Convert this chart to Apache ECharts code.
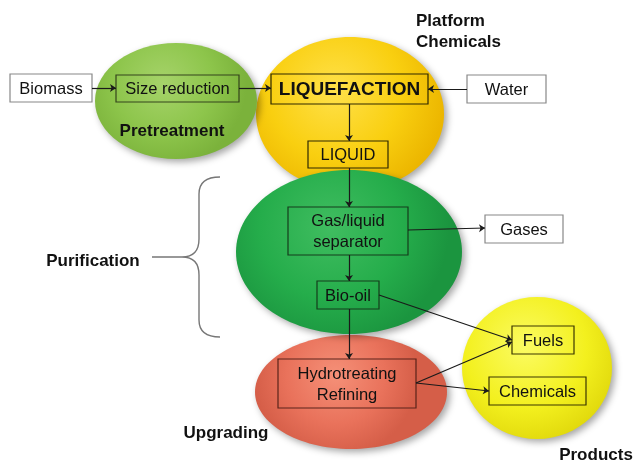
<!DOCTYPE html>
<html>
<head>
<meta charset="utf-8">
<script src="https://cdn.jsdelivr.net/npm/echarts@6/dist/echarts.min.js"></script>
<style>
  html, body { margin: 0; padding: 0; background: #fff; }
  #main { width: 634px; height: 463px; }
</style>
</head>
<body>
<div id="main"></div>
<script>
// stages (ellipses), in draw order: [cx, cy, rx, ry] in picture units
const stageNames = ['Upgrading', 'Liquefaction', 'Purification', 'Pretreatment', 'Products']
const stageCenters = [[351, 392], [350, 114], [349, 252], [176, 101], [537, 368]]
const stageRadii = [[96, 57], [94, 77], [113, 82], [81, 58], [75, 71]]

// process boxes: [left, top, width, height]
const boxLabels = ['Biomass', 'Size reduction', 'LIQUEFACTION', 'Water', 'LIQUID',
  'Gas/liquid\nseparator', 'Gases', 'Bio-oil', 'Hydrotreating\nRefining', 'Fuels', 'Chemicals']
const boxRects = [
  [10, 74, 82, 28], [116, 75, 123, 27], [271, 74, 157, 30], [467, 75, 79, 28], [308, 141, 80, 27],
  [288, 207, 120, 48], [485, 215, 78, 28], [317, 281, 62, 28], [278, 359, 138, 49],
  [512, 326, 62, 28], [489, 377, 97, 28]
]
const boxOutside = [true, false, false, true, false, false, true, false, false, false, false]

// arrows: [from, to]
const arrowLinks = [
  [[92, 88], [116, 88]],
  [[239, 88], [271, 88]],
  [[467, 89], [428, 89]],
  [[349, 104], [349, 141]],
  [[349, 168], [349, 207]],
  [[408, 230], [485, 228]],
  [[349, 255], [349, 281]],
  [[379, 295], [512, 340]],
  [[349, 309], [349, 359]],
  [[416, 383], [512, 342]],
  [[416, 383], [489, 391]]
]

// stage titles: [x, y]
const titleTexts = ['Platform\nChemicals', 'Pretreatment', 'Purification', 'Upgrading', 'Products']
const titlePos = [[416, 32], [172, 131], [93, 261], [226, 433], [596, 455]]

// purification brace: [spineX, topY, bottomY, tipX, endX, tailX]
const braceShape = [199, 177, 337, 182, 220, 152]

const stageFills = [
  ['#f59078', '#e9725b', '#d55e48'],
  ['#ffe14a', '#f9cf10', '#ecb600'],
  ['#40bd60', '#25ad4b', '#1b953f'],
  ['#a6d36a', '#8dc54b', '#7bb23b'],
  ['#fbfb62', '#f3f01e', '#dfd60a']
]
const boxStrokes = ['#333', '#34441c', '#2e2800', '#333', '#2e2800',
  '#143d1c', '#333', '#143d1c', '#5a231a', '#3a3600', '#3a3600']

const chart = echarts.init(document.getElementById('main'))
const font = '"Liberation Sans", Arial, sans-serif'

chart.setOption({
  animation: false,
  grid: { left: 0, right: 0, top: 0, bottom: 0 },
  xAxis: { type: 'value', min: 0, max: 634, show: false },
  yAxis: { type: 'value', min: 0, max: 463, inverse: true, show: false },
  series: [
    {
      type: 'custom',
      name: 'stages',
      z: 1,
      data: stageCenters.map((c, i) => [c[0], c[1], stageRadii[i][0], stageRadii[i][1], i]),
      renderItem: (params, api) => {
        const i = api.value(4)
        const p = api.coord([api.value(0), api.value(1)])
        const s = api.size([api.value(2), api.value(3)])
        const f = stageFills[i]
        return {
          type: 'ellipse',
          shape: { cx: p[0], cy: p[1], rx: s[0], ry: s[1] },
          style: {
            fill: new echarts.graphic.RadialGradient(0.42, 0.35, 0.72, [
              { offset: 0, color: f[0] },
              { offset: 0.6, color: f[1] },
              { offset: 1, color: f[2] }
            ]),
            shadowBlur: 7,
            shadowColor: 'rgba(0,0,0,0.35)',
            shadowOffsetX: 3,
            shadowOffsetY: 3
          }
        }
      }
    },
    {
      type: 'custom',
      name: 'brace',
      z: 2,
      data: [braceShape],
      renderItem: (params, api) => {
        const sx = api.value(0), top = api.value(1), bot = api.value(2)
        const tip = api.value(3), end = api.value(4), tail = api.value(5)
        const mid = (top + bot) / 2
        const P = (x, y) => api.coord([x, y]).join(' ')
        const d = 'M' + P(end, top) + ' Q' + P(sx, top) + ' ' + P(sx, top + 17) +
          ' L' + P(sx, mid - 18) + ' Q' + P(sx, mid) + ' ' + P(tip, mid) +
          ' Q' + P(sx, mid) + ' ' + P(sx, mid + 18) +
          ' L' + P(sx, bot - 17) + ' Q' + P(sx, bot) + ' ' + P(end, bot) +
          ' M' + P(tail, mid) + ' L' + P(tip, mid)
        return {
          type: 'path',
          shape: { pathData: d },
          style: { fill: 'none', stroke: '#777', lineWidth: 1.4 }
        }
      }
    },
    {
      type: 'custom',
      name: 'boxes',
      z: 3,
      data: boxRects.map((r, i) => [r[0], r[1], r[2], r[3], i]),
      renderItem: (params, api) => {
        const i = api.value(4)
        const p = api.coord([api.value(0), api.value(1)])
        const s = api.size([api.value(2), api.value(3)])
        const bold = i === 2
        return {
          type: 'group',
          children: [
            {
              type: 'rect',
              shape: { x: p[0], y: p[1], width: s[0], height: s[1] },
              style: {
                fill: boxOutside[i] ? '#fff' : 'rgba(0,0,0,0)',
                stroke: boxOutside[i] ? '#888' : boxStrokes[i],
                lineWidth: 1.2
              }
            },
            {
              type: 'text',
              style: {
                text: boxLabels[i],
                x: p[0] + s[0] / 2,
                y: p[1] + s[1] / 2 + 1,
                align: 'center',
                verticalAlign: 'middle',
                fill: '#111',
                font: (bold ? 'bold 19px ' : '16.5px ') + font,
                lineHeight: 21
              }
            }
          ]
        }
      }
    },
    {
      type: 'lines',
      name: 'arrows',
      coordinateSystem: 'cartesian2d',
      z: 4,
      symbol: ['none', 'arrow'],
      symbolSize: 6,
      lineStyle: { color: '#1a1a1a', width: 1.2, opacity: 1 },
      data: arrowLinks.map(a => ({ coords: a }))
    },
    {
      type: 'custom',
      name: 'titles',
      z: 5,
      data: titlePos.map((p, i) => [p[0], p[1], i]),
      renderItem: (params, api) => {
        const i = api.value(2)
        const p = api.coord([api.value(0), api.value(1)])
        return {
          type: 'text',
          style: {
            text: titleTexts[i],
            x: p[0],
            y: p[1],
            align: i === 0 ? 'left' : 'center',
            verticalAlign: 'middle',
            fill: '#111',
            font: 'bold 17px ' + font,
            lineHeight: 21
          }
        }
      }
    }
  ]
})
</script>
</body>
</html>
